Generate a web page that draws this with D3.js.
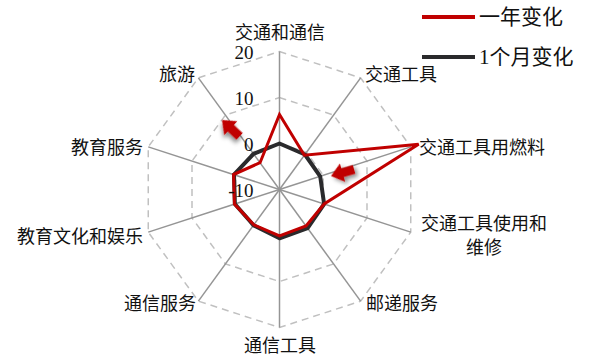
<!DOCTYPE html>
<html>
<head>
<meta charset="utf-8">
<script src="https://cdn.jsdelivr.net/npm/d3@7/dist/d3.min.js"></script>
<style>
  html, body { margin: 0; padding: 0; background: #fff; }
  svg { display: block; }
</style>
</head>
<body>
<svg id="chart" width="591" height="359"></svg>
<script>
// Radar chart: year-on-year vs month-on-month change by category
const categories = ['交通和通信', '交通工具', '交通工具用燃料', '交通工具使用和维修', '邮递服务',
                    '通信工具', '通信服务', '教育文化和娱乐', '教育服务', '旅游'];
const yearChange  = [6.3, -0.8, 21.8, 0.2, -0.2, 0.1, -0.5, 0.3, 0.5, -2.8];
const monthChange = [0.0, -0.6, -0.7, 0.2, 0.4, 0.6, -0.4, 0.2, 0.4, -0.4];
const tickValues = [-10, 0, 10, 20];
const seriesNames = ['一年变化', '1个月变化'];

const svg = d3.select('#chart');
const cx = 279.5, cy = 189.5, R = 138;
const n = categories.length;

const r = d3.scaleLinear().domain([-10, 20]).range([0, R]);
const angle = d3.scaleLinear().domain([0, n]).range([0, 2 * Math.PI]);

const g = svg.append('g').attr('transform', `translate(${cx},${cy})`);

// concentric dashed rings
const ring = d3.lineRadial().angle((d, i) => angle(i)).radius(d => r(d)).curve(d3.curveLinearClosed);
tickValues.filter(t => t > -10).forEach(t => {
  g.append('path')
    .attr('d', ring(d3.range(n).map(() => t)))
    .attr('fill', 'none')
    .attr('stroke', '#c0c0c0')
    .attr('stroke-width', 1.5)
    .attr('stroke-dasharray', '7,5');
});

// spokes
categories.forEach((c, i) => {
  const a = angle(i);
  g.append('line')
    .attr('x1', 0).attr('y1', 0)
    .attr('x2', r(20) * Math.sin(a)).attr('y2', -r(20) * Math.cos(a))
    .attr('stroke', '#959595')
    .attr('stroke-width', 1.5);
});

// series polygons
const seriesLine = d3.lineRadial().angle((d, i) => angle(i)).radius(d => r(d)).curve(d3.curveLinearClosed);
g.append('path')
  .attr('d', seriesLine(monthChange))
  .attr('fill', 'none')
  .attr('stroke', '#2a2a2c')
  .attr('stroke-width', 4)
  .attr('stroke-linejoin', 'round');
g.append('path')
  .attr('d', seriesLine(yearChange))
  .attr('fill', 'none')
  .attr('stroke', '#c00000')
  .attr('stroke-width', 3)
  .attr('stroke-linejoin', 'miter');

// radial tick labels
g.selectAll('.tick').data(tickValues).enter().append('text')
  .attr('x', -26)
  .attr('y', d => -r(d) + 1)
  .attr('text-anchor', 'end')
  .attr('dominant-baseline', 'central')
  .attr('font-family', '"Liberation Serif", serif')
  .attr('font-size', 19)
  .attr('fill', '#111')
  .text(d => d);

// category labels
const labelPos = [
  { x: 280, y: 31, anchor: 'middle' },
  { x: 365, y: 73, anchor: 'start' },
  { x: 419, y: 146, anchor: 'start' },
  { x: 484, y: 222, anchor: 'middle' },
  { x: 366, y: 302, anchor: 'start' },
  { x: 280, y: 344, anchor: 'middle' },
  { x: 196, y: 302, anchor: 'end' },
  { x: 143, y: 235, anchor: 'end' },
  { x: 143, y: 146, anchor: 'end' },
  { x: 195, y: 73, anchor: 'end' }
];
const labelLines = c => c === '交通工具使用和维修' ? ['交通工具使用和', '维修'] : [c];
categories.forEach((c, i) => {
  const p = labelPos[i];
  const t = svg.append('text')
    .attr('text-anchor', p.anchor)
    .attr('font-family', '"Noto Sans CJK SC", sans-serif')
    .attr('font-size', 18)
    .attr('fill', '#111');
  labelLines(c).forEach((line, k) => {
    t.append('tspan')
      .attr('x', p.x)
      .attr('y', p.y + k * 24)
      .attr('dominant-baseline', 'central')
      .text(line);
  });
});

// callout arrows with soft shadow
const defs = svg.append('defs');
const f = defs.append('filter').attr('id', 'shadow')
  .attr('x', '-50%').attr('y', '-50%').attr('width', '200%').attr('height', '200%');
f.append('feDropShadow')
  .attr('dx', 2).attr('dy', 3).attr('stdDeviation', 2.2)
  .attr('flood-color', '#000').attr('flood-opacity', 0.45);

const arrowShape = 'M0,0 L12,-9.5 L12,-4.5 L24,-4.5 L24,4.5 L12,4.5 L12,9.5 Z';
const arrows = [
  { x: 222, y: 120, rot: 43 },
  { x: 331, y: 176, rot: -16 }
];
arrows.forEach(a => {
  svg.append('path')
    .attr('d', arrowShape)
    .attr('transform', `translate(${a.x},${a.y}) rotate(${a.rot})`)
    .attr('fill', '#c00000')
    .attr('filter', 'url(#shadow)');
});

// legend
const legend = svg.append('g');
const legendColors = ['#c00000', '#2a2a2c'];
seriesNames.forEach((name, i) => {
  const y = 17 + i * 40;
  legend.append('line')
    .attr('x1', 422).attr('x2', 475)
    .attr('y1', y).attr('y2', y)
    .attr('stroke', legendColors[i])
    .attr('stroke-width', 4);
  legend.append('text')
    .attr('x', 479).attr('y', y)
    .attr('dominant-baseline', 'central')
    .attr('font-family', '"Liberation Serif", "Noto Sans CJK SC", serif')
    .attr('font-size', 21)
    .attr('fill', '#111')
    .text(name);
});
</script>
</body>
</html>
